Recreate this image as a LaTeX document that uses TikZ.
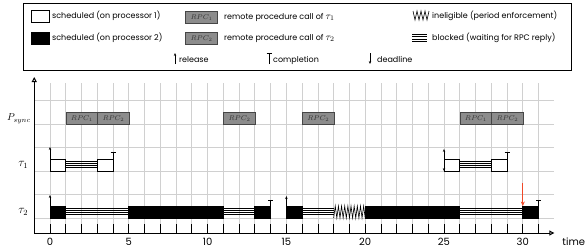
\documentclass[tikz,border=0pt]{standalone}
\usepackage[no-math]{fontspec}
\setmainfont{Poppins}
\usetikzlibrary{arrows.meta}
\definecolor{gridgray}{RGB}{208,208,208}
\definecolor{rpcfill}{RGB}{140,140,140}
\definecolor{rpcdraw}{RGB}{70,70,70}
\definecolor{deadred}{RGB}{240,72,40}
\tikzset{
  gridline/.style={draw=gridgray, line width=0.8pt},
  runone/.style={draw=black, fill=white, line width=0.8pt},
  runtwo/.style={draw=black, fill=black, line width=0.8pt},
  blkline/.style={draw=black, line width=0.7pt},
  zigline/.style={draw=black, line width=0.6pt},
  rpcbox/.style={draw=rpcdraw, fill=rpcfill, line width=0.8pt, text=black!80,
    font=\fontsize{7}{7}\selectfont, inner sep=0pt, minimum width=31.52pt, minimum height=11.5pt},
  lgtext/.style={font=\fontsize{8}{9}\selectfont, inner sep=0pt, anchor=west},
  axisline/.style={draw=black, line width=1pt, -{Triangle[open,length=5pt,width=5pt]}},
  tickline/.style={draw=black, line width=0.8pt},
  relarrow/.style={draw=black, line width=0.6pt, -{Stealth[length=3pt,width=2.4pt]}},
  dblarrow/.style={draw=black, line width=0.6pt, {Stealth[length=3pt,width=2.4pt]}-{Stealth[length=3pt,width=2.4pt]}},
  compline/.style={draw=black, line width=0.6pt},
  deadarrow/.style={draw=deadred, line width=1.1pt, -{Stealth[length=4.5pt,width=4pt]}},
  rowlabel/.style={inner sep=0pt},
  ticklabel/.style={font=\fontsize{10}{10}\selectfont, inner sep=0pt}
}
\newcommand\blockedbar[3]{\foreach \dd in {2,4,6,8}{\draw[blkline] (#1,#3+\dd) -- (#2,#3+\dd);}}
\begin{document}
\begin{tikzpicture}[x=1pt,y=-1pt]
\useasboundingbox (0,0) rectangle (586,250);
% ---------------- legend ----------------
\draw[line width=1pt] (23,3) rectangle (571,70);
\draw[runone] (31,10) rectangle (49,22);
\node[lgtext] (lgone) at (52,16) {scheduled (on processor 1)};
\draw[runtwo] (31,32) rectangle (49,44);
\node[lgtext] (lgtwo) at (52,38) {scheduled (on processor 2)};
\node[rpcbox] (lgrpcone) at (201.5,17.5) {$RPC_1$};
\node[lgtext] (lgrpconetxt) at (224,17) {remote procedure call of {\fontsize{10}{10}\selectfont$\tau_1$}};
\node[rpcbox] (lgrpctwo) at (201.5,38.5) {$RPC_2$};
\node[lgtext] (lgrpctwotxt) at (224,38) {remote procedure call of {\fontsize{10}{10}\selectfont$\tau_2$}};
\coordinate (lgrelb) at (175,64);
\coordinate (lgrelt) at (175,53);
\draw[relarrow] (lgrelb) -- (lgrelt);
\node[lgtext] (lgrel) at (179,60) {release};
\coordinate (lgcompb) at (269,64);
\coordinate (lgcompt) at (269,53);
\draw[compline] (lgcompb) -- (lgcompt) ++(-2.5,0) -- ++(5,0);
\node[lgtext] (lgcomp) at (273,60) {completion};
\coordinate (lgdeadt) at (370,53);
\coordinate (lgdeadb) at (370,64);
\draw[relarrow] (lgdeadt) -- (lgdeadb);
\node[lgtext] (lgdead) at (377,59) {deadline};
\draw[zigline] (413,11) \foreach \i in {1,...,8}{ -- ({413+\i*2},{ifthenelse(isodd(\i),20,11)}) };
\node[lgtext] (lgzig) at (432,16) {ineligible (period enforcement)};
\foreach \dd in {34,36.5,39,41.5}{\draw[blkline] (412,\dd) -- (427,\dd);}
\node[lgtext] (lgblk) at (432,38) {blocked (waiting for RPC reply)};
% ---------------- timeline ----------------
\begin{scope}[shift={(50,0)}, x=15.76pt]
  % grid
  \foreach \t in {0,...,31}{\draw[gridline] (\t,83) -- (\t,233);}
  \foreach \yy in {100.5,124,147.5,171,194.5,218}{\draw[gridline] (-1,\yy) -- (32,\yy);}
  % row labels
  \node[rowlabel, font=\fontsize{10}{10}\selectfont] (psync) at (-1.97,119) {$P_{sync}$};
  \node[rowlabel, font=\fontsize{12}{12}\selectfont] (tauone) at (-1.7,165) {$\tau_1$};
  \node[rowlabel, font=\fontsize{12}{12}\selectfont] (tautwo) at (-1.7,212) {$\tau_2$};
  % P_sync
  \node[rpcbox, anchor=north west] (rpcA) at (1,112) {$RPC_1$};
  \node[rpcbox, anchor=north west] (rpcB) at (3,112) {$RPC_2$};
  \node[rpcbox, anchor=north west] (rpcC) at (11,112) {$RPC_2$};
  \node[rpcbox, anchor=north west] (rpcD) at (16,112) {$RPC_2$};
  \node[rpcbox, anchor=north west] (rpcE) at (26,112) {$RPC_1$};
  \node[rpcbox, anchor=north west] (rpcF) at (28,112) {$RPC_2$};
  % tau_1
  \draw[runone] (0,159) rectangle (1,171);
  \blockedbar{1}{3}{159}
  \draw[runone] (3,159) rectangle (4,171);
  \draw[runone] (25,159) rectangle (26,171);
  \blockedbar{26}{28}{159}
  \draw[runone] (28,159) rectangle (29,171);
  \draw[relarrow] (0,171) -- (0,147);
  \draw[compline] (4,171) -- (4,152) ++(-0.16,0) -- ++(0.32,0);
  \draw[dblarrow] (25,171) -- (25,149);
  \draw[compline] (29,171) -- (29,152) ++(-0.16,0) -- ++(0.32,0);
  % tau_2
  \draw[runtwo] (0,206) rectangle (1,218);
  \blockedbar{1}{5}{206}
  \draw[runtwo] (5,206) rectangle (11,218);
  \blockedbar{11}{13}{206}
  \draw[runtwo] (13,206) rectangle (14,218);
  \draw[runtwo] (15,206) rectangle (16,218);
  \blockedbar{16}{18}{206}
  \draw[zigline] (18,218) \foreach \i in {1,...,20}{ -- ({18+\i*0.1},{ifthenelse(isodd(\i),206,218)}) };
  \draw[runtwo] (20,206) rectangle (26,218);
  \blockedbar{26}{30}{206}
  \draw[runtwo] (30,206) rectangle (31,218);
  \draw[relarrow] (0,218) -- (0,195);
  \draw[compline] (14,218) -- (14,200) ++(-0.16,0) -- ++(0.32,0);
  \draw[relarrow] (15,218) -- (15,196);
  \draw[compline] (31,218) -- (31,200) ++(-0.16,0) -- ++(0.32,0);
  \draw[deadarrow] (30,183) -- (30,206);
  % ticks
  \foreach \t in {0,...,31}{\draw[tickline] (\t,233) -- (\t,224);}
  \foreach \t in {0,5,...,30}{\node[ticklabel] (tl\t) at (\t,241.5) {\t};}
  % axes
  \draw[axisline] (-1,233.5) -- (-1,77);
  \draw[axisline] (-1,233) -- (32,233);
  \node[ticklabel, anchor=west] (timelabel) at (32.5,241.5) {time};
\end{scope}
\end{tikzpicture}
\end{document}
